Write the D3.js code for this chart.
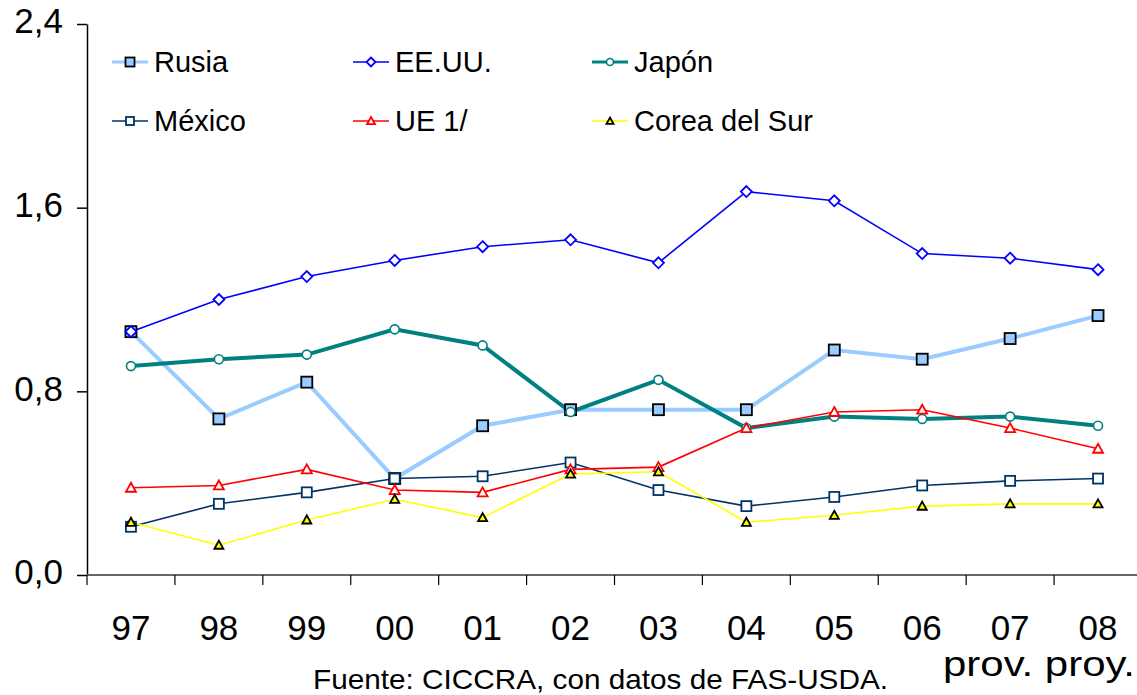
<!DOCTYPE html>
<html>
<head>
<meta charset="utf-8">
<script src="https://cdn.jsdelivr.net/npm/d3@7"></script>
<style>
  body { margin: 0; background: #fff; }
  svg { display: block; font-family: 'Liberation Sans', Arial, sans-serif; }
</style>
</head>
<body>
<div id="chart"></div>
<script>
const years = ['97', '98', '99', '00', '01', '02', '03', '04', '05', '06', '07', '08']
const yTicks = [0, 0.8, 1.6, 2.4]

const rusia = [1.06, 0.68, 0.84, 0.42, 0.65, 0.72, 0.72, 0.72, 0.98, 0.94, 1.03, 1.13]
const eeuu = [1.06, 1.20, 1.30, 1.37, 1.43, 1.46, 1.36, 1.67, 1.63, 1.40, 1.38, 1.33]
const japon = [0.91, 0.94, 0.96, 1.07, 1.00, 0.71, 0.85, 0.64, 0.69, 0.68, 0.69, 0.65]
const mexico = [0.21, 0.31, 0.36, 0.42, 0.43, 0.49, 0.37, 0.30, 0.34, 0.39, 0.41, 0.42]
const ue = [0.38, 0.39, 0.46, 0.37, 0.36, 0.46, 0.47, 0.64, 0.71, 0.72, 0.64, 0.55]
const corea = [0.23, 0.13, 0.24, 0.33, 0.25, 0.44, 0.45, 0.23, 0.26, 0.30, 0.31, 0.31]

const series = [
  { name: 'Rusia', values: rusia, color: '#99ccff', width: 4, marker: 'square', fill: '#99ccff', stroke: '#000', size: 11 },
  { name: 'EE.UU.', values: eeuu, color: '#0000ff', width: 1.6, marker: 'diamond', fill: '#fff', stroke: '#0000ff', size: 9 },
  { name: 'Japón', values: japon, color: '#008080', width: 4, marker: 'circle', fill: '#fff', stroke: '#008080', size: 9 },
  { name: 'México', values: mexico, color: '#003366', width: 1.6, marker: 'square', fill: '#fff', stroke: '#003366', size: 10 },
  { name: 'UE 1/', values: ue, color: '#ff0000', width: 1.6, marker: 'triangle', fill: '#fff', stroke: '#ff0000', size: 10 },
  { name: 'Corea del Sur', values: corea, color: '#ffff00', width: 1.6, marker: 'triangle', fill: '#ffff00', stroke: '#000', size: 9 }
]

const width = 1137
const height = 695
const margin = { top: 24, right: -5, bottom: 120, left: 87 }

const svg = d3.select('#chart')
  .append('svg')
  .attr('width', width)
  .attr('height', height)

const x = d3.scaleBand()
  .domain(years)
  .range([margin.left, width - margin.right])

const y = d3.scaleLinear()
  .domain([0, 2.4])
  .range([height - margin.bottom, margin.top])

const fmt = d => d3.format('.1f')(d).replace('.', ',')

// y axis
const yAxis = d3.axisLeft(y)
  .tickValues(yTicks)
  .tickFormat(fmt)
  .tickSizeInner(10)
  .tickSizeOuter(0)
  .tickPadding(14)

const gy = svg.append('g')
  .attr('transform', `translate(${margin.left},0)`)
  .call(yAxis)
gy.select('.domain').attr('stroke', '#000').attr('stroke-width', 1.5)
gy.selectAll('.tick line').attr('stroke', '#000').attr('stroke-width', 1.5)
gy.selectAll('.tick text')
  .attr('font-size', 35)
  .attr('fill', '#000')
  .attr('dy', '0.25em')

// x axis
const x0 = y(0)
const gx = svg.append('g')
gx.append('line')
  .attr('x1', margin.left).attr('x2', width)
  .attr('y1', x0).attr('y2', x0)
  .attr('stroke', '#666').attr('stroke-width', 2)
gx.selectAll('.xtick')
  .data(years)
  .join('line')
  .attr('class', 'xtick')
  .attr('x1', d => x(d)).attr('x2', d => x(d))
  .attr('y1', x0).attr('y2', x0 + 10)
  .attr('stroke', '#000').attr('stroke-width', 1.2)
gx.selectAll('.xlabel')
  .data(years)
  .join('text')
  .attr('class', 'xlabel')
  .attr('x', d => x(d) + x.bandwidth() / 2)
  .attr('y', 640)
  .attr('text-anchor', 'middle')
  .attr('font-size', 35)
  .text(d => d)

svg.append('text')
  .attr('x', 943)
  .attr('y', 676)
  .attr('font-size', 35)
  .attr('textLength', 192)
  .attr('lengthAdjust', 'spacingAndGlyphs')
  .text('prov. proy.')

svg.append('text')
  .attr('x', 313)
  .attr('y', 689)
  .attr('font-size', 28)
  .attr('textLength', 575)
  .attr('lengthAdjust', 'spacingAndGlyphs')
  .text('Fuente: CICCRA, con datos de FAS-USDA.')

// markers
function drawMarker (sel, s, cx, cy) {
  const r = s.size / 2
  if (s.marker === 'square') {
    sel.append('rect')
      .attr('x', cx - r).attr('y', cy - r)
      .attr('width', s.size).attr('height', s.size)
      .attr('fill', s.fill).attr('stroke', s.stroke).attr('stroke-width', 1.8)
  } else if (s.marker === 'diamond') {
    sel.append('path')
      .attr('d', `M${cx},${cy - r - 1}L${cx + r + 1},${cy}L${cx},${cy + r + 1}L${cx - r - 1},${cy}Z`)
      .attr('fill', s.fill).attr('stroke', s.stroke).attr('stroke-width', 1.8)
  } else if (s.marker === 'circle') {
    sel.append('circle')
      .attr('cx', cx).attr('cy', cy).attr('r', r)
      .attr('fill', s.fill).attr('stroke', s.stroke).attr('stroke-width', 1.6)
  } else if (s.marker === 'triangle') {
    sel.append('path')
      .attr('d', `M${cx},${cy - r}L${cx + r},${cy + r * 0.8}L${cx - r},${cy + r * 0.8}Z`)
      .attr('fill', s.fill).attr('stroke', s.stroke).attr('stroke-width', 1.8)
  }
}

const line = d3.line()
  .x((d, i) => x(years[i]) + x.bandwidth() / 2)
  .y(d => y(d))

const plot = svg.append('g')
series.forEach(s => {
  plot.append('path')
    .datum(s.values)
    .attr('fill', 'none')
    .attr('stroke', s.color)
    .attr('stroke-width', s.width)
    .attr('d', line)
})
series.forEach(s => {
  const g = plot.append('g')
  s.values.forEach((v, i) => drawMarker(g, s, x(years[i]) + x.bandwidth() / 2, y(v)))
})

// legend
const legendCols = [112, 353, 592]
const legendRows = [62, 121]
series.forEach((s, i) => {
  const lx = legendCols[i % 3]
  const ly = legendRows[Math.floor(i / 3)]
  const g = svg.append('g')
  g.append('line')
    .attr('x1', lx).attr('x2', lx + 36)
    .attr('y1', ly).attr('y2', ly)
    .attr('stroke', s.color).attr('stroke-width', s.width === 4 ? 3 : 1.6)
  drawMarker(g, Object.assign({}, s, { size: s.size - 2 }), lx + 18, ly)
  g.append('text')
    .attr('x', lx + 42)
    .attr('y', ly + 10)
    .attr('font-size', 29)
    .text(s.name)
})
</script>
</body>
</html>
